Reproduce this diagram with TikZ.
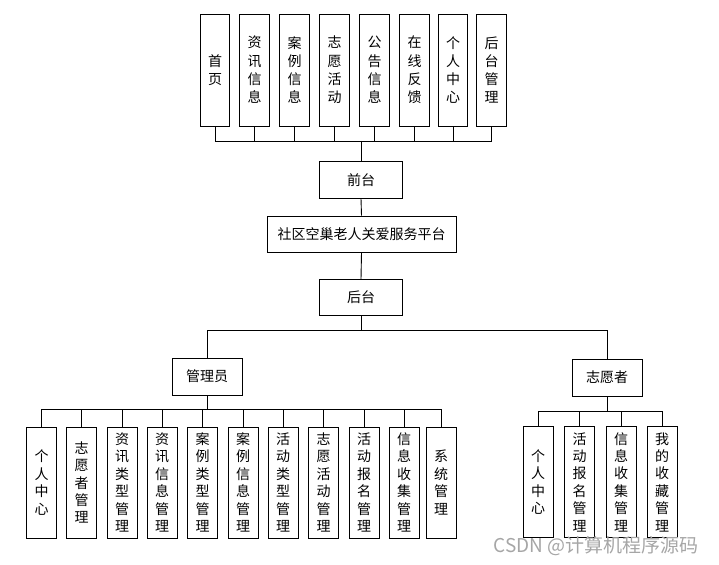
\documentclass[tikz,border=0pt]{standalone}
\usepackage{fontspec}
\newfontfamily\cjk{Noto Sans CJK SC}
\begin{document}
\begin{tikzpicture}[x=1pt,y=-1pt,
  box/.style={draw=black,line width=0.9pt,fill=white,inner sep=0pt,align=center,
    font=\cjk\fontsize{14}{18.3}\selectfont},
  topbox/.style={box,minimum width=29.5,minimum height=112},
  hbox/.style={box,minimum width=83,minimum height=36.5},
  lowbox/.style={box,minimum width=30,minimum height=111,
    font=\cjk\fontsize{14}{17.4}\selectfont},
  conn/.style={draw=black,line width=0.9pt}]
\useasboundingbox (0,0) rectangle (719,564);
% top row
\node[topbox] (t1) at (215,70) {首\\页};
\node[topbox] (t2) at (254.5,70) {资\\讯\\信\\息};
\node[topbox] (t3) at (294.5,70) {案\\例\\信\\息};
\node[topbox] (t4) at (334.5,70) {志\\愿\\活\\动};
\node[topbox] (t5) at (374.5,70) {公\\告\\信\\息};
\node[topbox] (t6) at (414.5,70) {在\\线\\反\\馈};
\node[topbox] (t7) at (453,70) {个\\人\\中\\心};
\node[topbox] (t8) at (491.5,70) {后\\台\\管\\理};
% centre column
\node[hbox] (qt) at (361,180) {前台};
\node[hbox,minimum width=189,minimum height=36] (pt) at (361.5,234) {社区空巢老人关爱服务平台};
\node[hbox] (ht) at (361,297.5) {后台};
\node[hbox,minimum width=70,minimum height=37] (gly) at (207,376.5) {管理员};
\node[hbox,minimum width=70,minimum height=37] (zyz) at (607,377.5) {志愿者};
% admin children
\node[lowbox] (a1) at (41.7,482.5) {个\\人\\中\\心};
\node[lowbox] (a2) at (81.7,482.5) {志\\愿\\者\\管\\理};
\node[lowbox] (a3) at (122,482.5) {资\\讯\\类\\型\\管\\理};
\node[lowbox] (a4) at (162,482.5) {资\\讯\\信\\息\\管\\理};
\node[lowbox] (a5) at (202.5,482.5) {案\\例\\类\\型\\管\\理};
\node[lowbox] (a6) at (243,482.5) {案\\例\\信\\息\\管\\理};
\node[lowbox] (a7) at (283,482.5) {活\\动\\类\\型\\管\\理};
\node[lowbox] (a8) at (323.5,482.5) {志\\愿\\活\\动\\管\\理};
\node[lowbox] (a9) at (364,482.5) {活\\动\\报\\名\\管\\理};
\node[lowbox] (a10) at (404,482.5) {信\\息\\收\\集\\管\\理};
\node[lowbox] (a11) at (441,482.5) {系\\统\\管\\理};
% volunteer children
\node[lowbox] (v1) at (538,482) {个\\人\\中\\心};
\node[lowbox] (v2) at (579.5,482) {活\\动\\报\\名\\管\\理};
\node[lowbox] (v3) at (621,482) {信\\息\\收\\集\\管\\理};
\node[lowbox] (v4) at (662,482) {我\\的\\收\\藏\\管\\理};
% bus coordinates
\coordinate (busT) at (361,141);
\coordinate (busM) at (361,330);
\coordinate (busA) at (207,409);
\coordinate (busV) at (607,411);
% connectors
\foreach \n in {t1,t2,t3,t4,t5,t6,t7,t8}
  \draw[conn] (\n.south) |- (busT);
\draw[conn] (busT) -- (qt.north);
\draw[conn] (qt.south) -- (pt.north);
\draw[conn] (pt.south) -- (ht.north);
\draw[conn] (ht.south) -- (busM);
\draw[conn] (busM) -| (gly.north);
\draw[conn] (busM) -| (zyz.north);
\draw[conn] (gly.south) -- (busA);
\foreach \n in {a1,a2,a3,a4,a5,a6,a7,a8,a9,a10,a11}
  \draw[conn] (busA) -| (\n.north);
\draw[conn] (zyz.south) -- (busV);
\foreach \n in {v1,v2,v3,v4}
  \draw[conn] (busV) -| (\n.north);
% watermark
\node[text=gray!70,font=\cjk\fontsize{19}{22}\selectfont,inner sep=0pt] (wm) at (596,546) {CSDN @计算机程序源码};
\end{tikzpicture}
\end{document}
